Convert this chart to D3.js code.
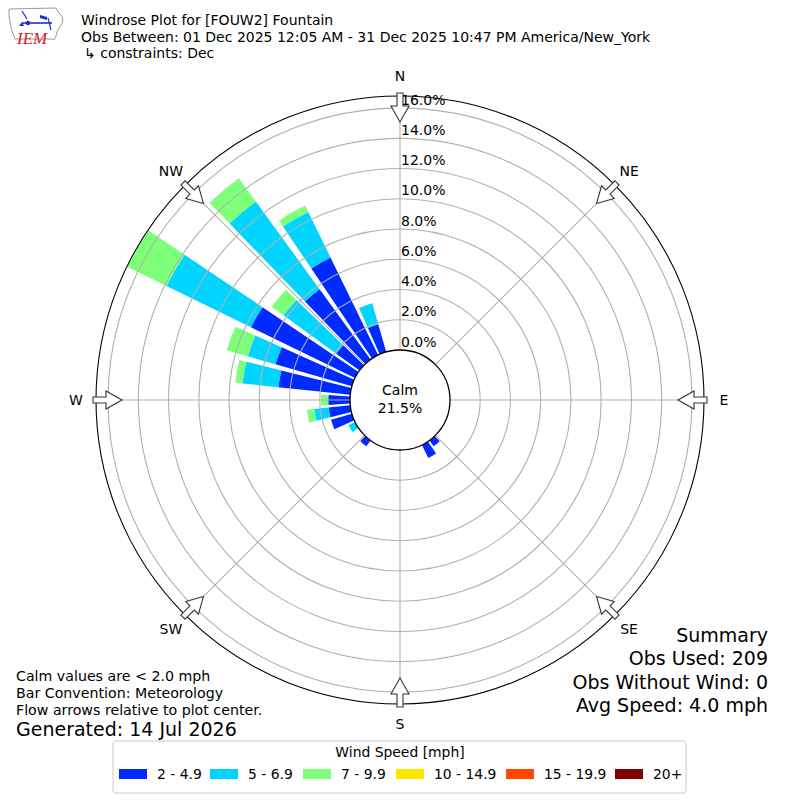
<!DOCTYPE html>
<html>
<head>
<meta charset="utf-8">
<script src="https://cdn.jsdelivr.net/npm/d3@7"></script>
<style>
  html, body { margin: 0; padding: 0; background: #fff; }
  svg { display: block; font-family: "DejaVu Sans", sans-serif; }
</style>
</head>
<body>
<svg id="chart" width="800" height="800"></svg>
<script>
// ---------------- data ----------------
const directions = [140, 150, 220, 240, 250, 260, 270, 280, 290, 300, 310, 320, 330, 340];
const speedBins = ["2 - 4.9", "5 - 6.9", "7 - 9.9", "10 - 14.9", "15 - 19.9", "20+"];
const binColors = ["#002aff", "#00d4ff", "#7dff7a", "#ffe600", "#ff4800", "#800000"];
// percent of observations per direction, for each speed bin
const pct2to5   = [0.48, 0.96, 0.48, 0.00, 1.44, 1.44, 1.44, 4.78, 5.26, 7.66, 1.91, 5.74, 7.18, 1.91];
const pct5to7   = [0.00, 0.00, 0.00, 0.48, 0.00, 0.96, 0.00, 2.39, 1.91, 6.22, 4.31, 7.18, 3.35, 1.44];
const pct7to10  = [0.00, 0.00, 0.00, 0.00, 0.00, 0.48, 0.48, 0.48, 1.44, 2.87, 0.96, 1.91, 0.48, 0.00];
const pct10to15 = [0, 0, 0, 0, 0, 0, 0, 0, 0, 0, 0, 0, 0, 0];
const pct15to20 = [0, 0, 0, 0, 0, 0, 0, 0, 0, 0, 0, 0, 0, 0];
const pct20plus = [0, 0, 0, 0, 0, 0, 0, 0, 0, 0, 0, 0, 0, 0];
const radialTicks = [0, 2, 4, 6, 8, 10, 12, 14, 16];
const compassLabels = ["N", "NE", "E", "SE", "S", "SW", "W", "NW"];
const compassAngles = [0, 45, 90, 135, 180, 225, 270, 315];
const calmPct = 21.5;
const titleLines = [
  "Windrose Plot for [FOUW2] Fountain",
  "Obs Between: 01 Dec 2025 12:05 AM - 31 Dec 2025 10:47 PM America/New_York",
  "\u21B3 constraints: Dec"
];
const notesLines = ["Calm values are < 2.0 mph", "Bar Convention: Meteorology", "Flow arrows relative to plot center."];
const generatedText = "Generated: 14 Jul 2026";
const summaryLines = ["Summary", "Obs Used: 209", "Obs Without Wind: 0", "Avg Speed: 4.0 mph"];

// ---------------- setup ----------------
const svg = d3.select("#chart");
const cx = 400, cy = 400;
const rMax = 16.8;
const r = d3.scaleLinear().domain([0, rMax]).range([50, 304]);
const deg = Math.PI / 180;
const barWidth = 8; // degrees

const g = svg.append("g").attr("transform", `translate(${cx},${cy})`);

// ---------------- bars ----------------
const seriesAll = [pct2to5, pct5to7, pct7to10, pct10to15, pct15to20, pct20plus];
const stackData = directions.map((d, i) => {
  const obj = { dir: d };
  speedBins.forEach((b, k) => obj[b] = seriesAll[k][i]);
  return obj;
});
const stacked = d3.stack().keys(speedBins)(stackData);
const arc = d3.arc();
stacked.forEach((layer, k) => {
  g.append("g").selectAll("path")
    .data(layer.filter(s => s[1] - s[0] > 0))
    .join("path")
    .attr("d", s => arc({
      innerRadius: r(s[0]),
      outerRadius: r(s[1]),
      startAngle: (s.data.dir - barWidth / 2) * deg,
      endAngle: (s.data.dir + barWidth / 2) * deg
    }))
    .attr("fill", binColors[k]);
});

// ---------------- grid ----------------
const grid = g.append("g").attr("fill", "none").attr("stroke", "#b0b0b0").attr("stroke-width", 1.1);
grid.selectAll("circle")
  .data(radialTicks.filter(t => t > 0))
  .join("circle")
  .attr("r", t => r(t));
grid.selectAll("line")
  .data(compassAngles)
  .join("line")
  .attr("x1", a => r(0) * Math.sin(a * deg))
  .attr("y1", a => -r(0) * Math.cos(a * deg))
  .attr("x2", a => r(rMax) * Math.sin(a * deg))
  .attr("y2", a => -r(rMax) * Math.cos(a * deg));

// outer spine
g.append("circle").attr("r", r(rMax)).attr("fill", "none").attr("stroke", "#000").attr("stroke-width", 1.1);

// calm circle
g.append("circle").attr("r", r(0)).attr("fill", "#fff").attr("stroke", "#000").attr("stroke-width", 1.3);
g.append("text").attr("x", 0).attr("y", -10).attr("text-anchor", "middle").attr("dominant-baseline", "central")
  .attr("font-size", 14).text("Calm");
g.append("text").attr("x", 0).attr("y", 8).attr("text-anchor", "middle").attr("dominant-baseline", "central")
  .attr("font-size", 14).text(calmPct.toFixed(1) + "%");

// radial labels
g.append("g").selectAll("text")
  .data(radialTicks)
  .join("text")
  .attr("x", 1)
  .attr("y", t => -r(t) - 3.5)
  .attr("font-size", 14)
  .text(t => t.toFixed(1) + "%");

// flow arrows
const arrowPts = [[-3, -307], [3, -307], [3, -294], [9, -294], [0, -278], [-9, -294], [-3, -294]];
g.append("g").selectAll("path")
  .data(compassAngles)
  .join("path")
  .attr("d", "M" + arrowPts.map(p => p.join(",")).join("L") + "Z")
  .attr("transform", a => `rotate(${a})`)
  .attr("fill", "#fff")
  .attr("stroke", "#333")
  .attr("stroke-width", 1.1)
  .attr("stroke-linejoin", "miter");

// compass labels
g.append("g").selectAll("text")
  .data(compassLabels)
  .join("text")
  .attr("x", (d, i) => 324 * Math.sin(compassAngles[i] * deg))
  .attr("y", (d, i) => -324 * Math.cos(compassAngles[i] * deg))
  .attr("text-anchor", "middle")
  .attr("dominant-baseline", "central")
  .attr("font-size", 14)
  .text(d => d);

// ---------------- titles ----------------
const titleY = [25, 42, 58];
svg.append("g").selectAll("text")
  .data(titleLines)
  .join("text")
  .attr("x", (d, i) => i === 2 ? 84 : 81)
  .attr("y", (d, i) => titleY[i])
  .attr("font-size", 14)
  .text(d => d);

// ---------------- logo ----------------
const logo = svg.append("g");
logo.append("path")
  .attr("d", "M9,9 L56,8 L58,12 L61,15 L63,19 L62,24 L59,28 L57,32 L56,36 L54,40 L52,39 L15,39 L13,34 L11,28 L10,22 L9,16 Z")
  .attr("fill", "none").attr("stroke", "#9a9aa6").attr("stroke-width", 1);
const blue = "#1a2fd0";
logo.append("line").attr("x1", 22).attr("y1", 23).attr("x2", 52).attr("y2", 23).attr("stroke", blue).attr("stroke-width", 1.6);
logo.append("line").attr("x1", 22).attr("y1", 11).attr("x2", 27).attr("y2", 19).attr("stroke", blue).attr("stroke-width", 1.3);
logo.append("circle").attr("cx", 28).attr("cy", 23).attr("r", 2.2).attr("fill", blue);
logo.append("path").attr("d", "M40,15 L47,17 L47,20 L40,18 Z").attr("fill", blue);
logo.append("line").attr("x1", 48).attr("y1", 18).attr("x2", 51).attr("y2", 30).attr("stroke", blue).attr("stroke-width", 1.2);
logo.append("path").attr("d", "M19,26 L22,22 L24,26 Z").attr("fill", blue);
logo.append("text").attr("x", 17).attr("y", 44)
  .attr("font-family", "'Liberation Serif', 'DejaVu Serif', serif")
  .attr("font-style", "italic").attr("font-size", 17).attr("fill", "#d42020").text("IEM");

// ---------------- notes & summary ----------------
const notesY = [681, 698, 715];
svg.append("g").selectAll("text")
  .data(notesLines)
  .join("text")
  .attr("x", 16)
  .attr("y", (d, i) => notesY[i])
  .attr("font-size", 14.2)
  .text(d => d);
svg.append("text").attr("x", 16).attr("y", 735.5).attr("font-size", 19).text(generatedText);

const sumY = [641.5, 665, 688.5, 711.5];
svg.append("g").selectAll("text")
  .data(summaryLines)
  .join("text")
  .attr("x", 768)
  .attr("y", (d, i) => sumY[i])
  .attr("text-anchor", "end")
  .attr("font-size", 19)
  .text(d => d);

// ---------------- legend ----------------
const leg = svg.append("g");
leg.append("rect").attr("x", 113).attr("y", 741).attr("width", 573).attr("height", 52)
  .attr("rx", 3).attr("fill", "#fff").attr("stroke", "#cccccc").attr("stroke-width", 1);
leg.append("text").attr("x", 400).attr("y", 752).attr("text-anchor", "middle").attr("dominant-baseline", "central")
  .attr("font-size", 13.9).text("Wind Speed [mph]");
const legX = [119, 210, 303, 396, 506, 615];
const items = leg.selectAll("g.item")
  .data(speedBins)
  .join("g")
  .attr("class", "item")
  .attr("transform", (d, i) => `translate(${legX[i]},774)`);
items.append("rect").attr("x", 0).attr("y", -5).attr("width", 28).attr("height", 10)
  .attr("fill", (d, i) => binColors[i]);
items.append("text").attr("x", 38).attr("y", 0).attr("dominant-baseline", "central")
  .attr("font-size", 13.9).text(d => d);
</script>
</body>
</html>
